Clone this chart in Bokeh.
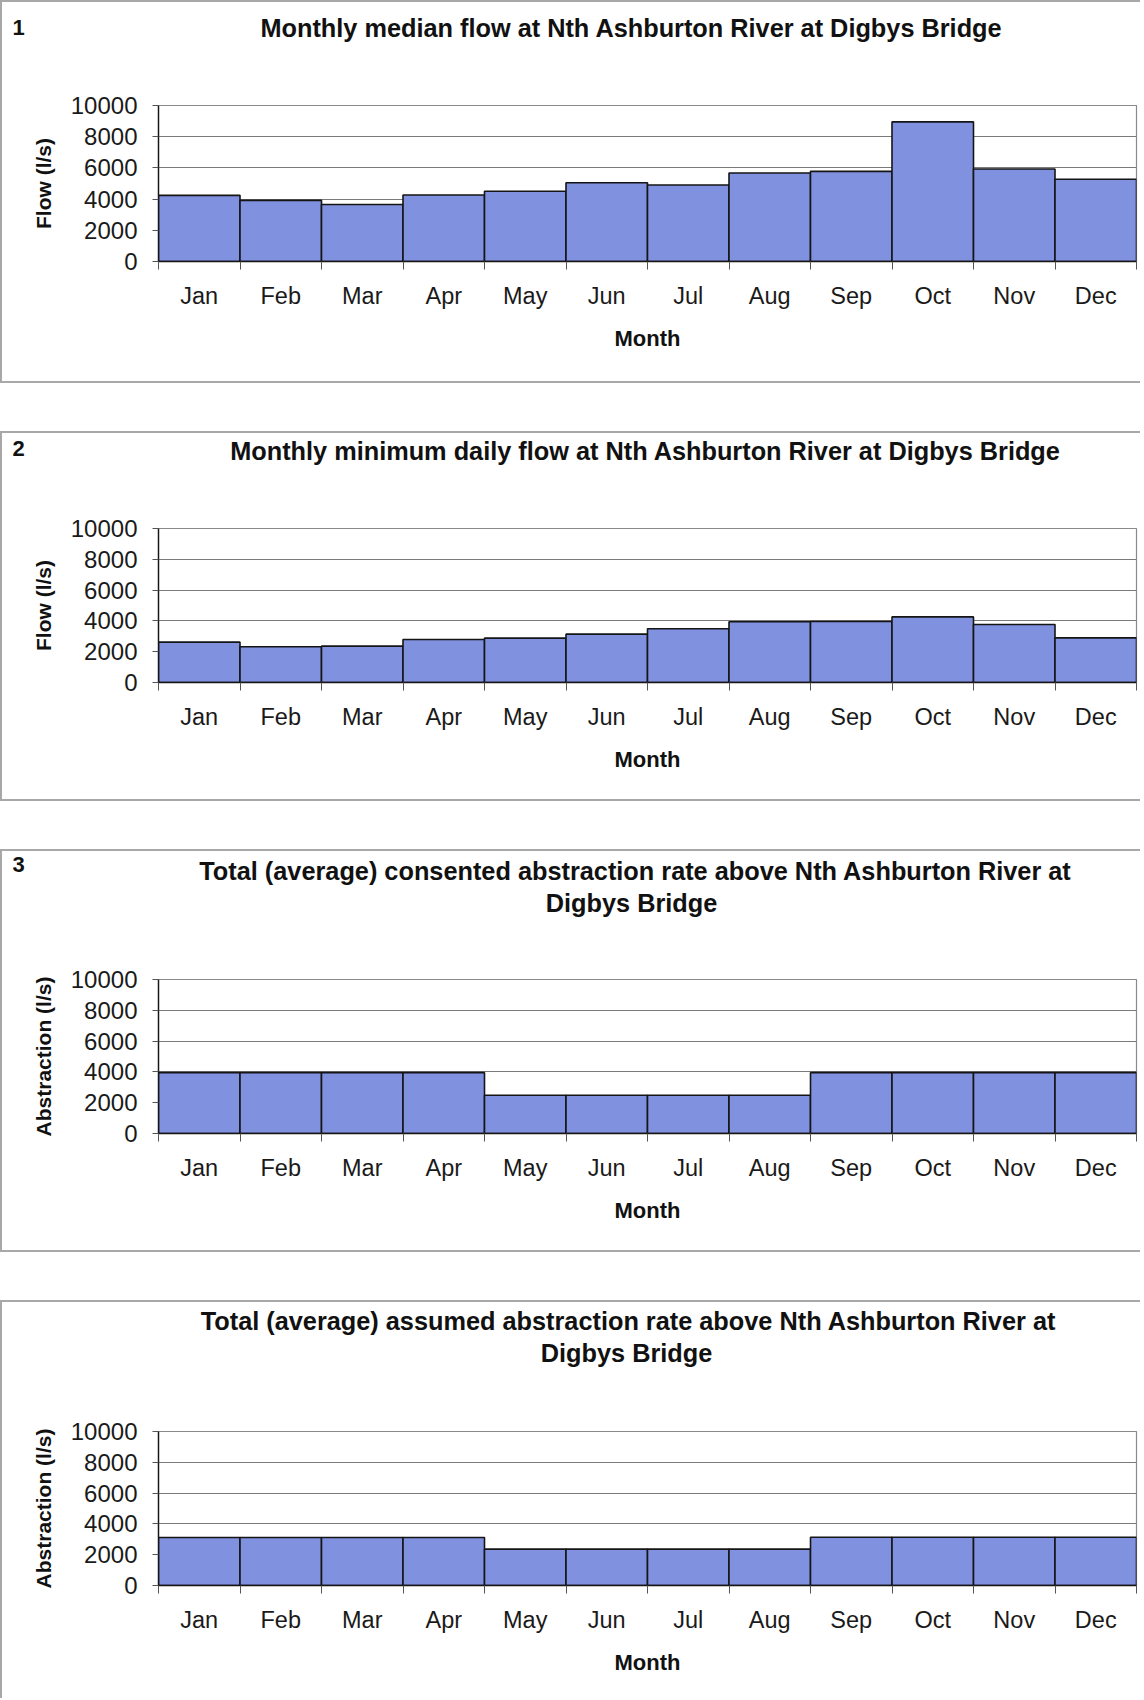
from bokeh.plotting import figure
from bokeh.models import FixedTicker, Range1d
from bokeh.layouts import column
from bokeh.core.properties import value
from bokeh.embed import file_html
from bokeh.resources import INLINE

months = ["Jan", "Feb", "Mar", "Apr", "May", "Jun", "Jul", "Aug", "Sep", "Oct", "Nov", "Dec"]
median_flow = [4240, 3920, 3650, 4260, 4500, 5050, 4900, 5670, 5780, 8950, 5930, 5270]
min_daily_flow = [2620, 2320, 2360, 2790, 2880, 3140, 3490, 3940, 3960, 4260, 3770, 2900]
consented_abstraction = [3950, 3950, 3950, 3950, 2480, 2480, 2480, 2480, 3950, 3950, 3950, 3950]
assumed_abstraction = [3120, 3120, 3120, 3120, 2360, 2360, 2360, 2360, 3130, 3130, 3130, 3130]
y_ticks = [0, 2000, 4000, 6000, 8000, 10000]

titles = [
    ["Monthly median flow at Nth Ashburton River at Digbys Bridge"],
    ["Monthly minimum daily flow at Nth Ashburton River at Digbys Bridge"],
    ["Total (average) consented abstraction rate above Nth Ashburton River at", "Digbys Bridge"],
    ["Total (average) assumed abstraction rate above Nth Ashburton River at", "Digbys Bridge"],
]
panel_numbers = ["1", "2", "3", ""]
y_labels = ["Flow (l/s)", "Flow (l/s)", "Abstraction (l/s)", "Abstraction (l/s)"]
series = [median_flow, min_daily_flow, consented_abstraction, assumed_abstraction]

FONT = "Liberation Sans"
BAR = "#8091E0"
W = 1140
LEFT = 156
TOP = 16
BORDER = "2px solid #a8a8a8"

# header height, chart height, chart bottom border,
# title line centres (x, y) in header pixels, panel-number centre y
layouts = [
    (89, 294, 122, [(629, 25)], 25),
    (81, 289, 119, [(643, 17)], 15),
    (114, 289, 119, [(633, 19), (629, 51)], 13),
    (115, 283, 113, [(626, 18), (624, 50)], None),
]


def make_header(i):
    hh, _, _, lines, num_y = layouts[i]
    h = figure(width=W, height=hh, x_range=Range1d(0, W), y_range=Range1d(hh, 0),
               output_backend="svg", toolbar_location=None, min_border=0,
               x_axis_location=None, y_axis_location=None, frame_align=False)
    h.grid.visible = False
    h.outline_line_color = None
    h.background_fill_color = "white"
    h.border_fill_color = "white"
    h.text(x=[c[0] for c in lines], y=[c[1] for c in lines], text=titles[i],
           text_font=value(FONT), text_font_size="25.3px", text_font_style="bold",
           text_color="#111111", text_align="center", text_baseline="middle")
    if panel_numbers[i]:
        h.text(x=[10], y=[num_y], text=[panel_numbers[i]],
               text_font=value(FONT), text_font_size="22px", text_font_style="bold",
               text_color="#111111", text_align="left", text_baseline="middle")
    h.styles = {"border-left": BORDER, "border-top": BORDER}
    return h


def make_chart(i):
    _, hc, bottom, _, _ = layouts[i]
    p = figure(width=W, height=hc, x_range=Range1d(-0.5, 11.5), y_range=Range1d(0, 10000),
               output_backend="svg", toolbar_location=None,
               min_border_left=LEFT, min_border_right=6,
               min_border_top=TOP, min_border_bottom=bottom, frame_align=False)
    xs = list(range(len(months)))
    p.vbar(x=xs, top=series[i], bottom=0, width=1.0, fill_color=BAR,
           line_color="#151515", line_width=1.6)

    p.outline_line_color = "#8a8a8a"
    p.outline_line_width = 1.2
    p.background_fill_color = "white"
    p.border_fill_color = "white"

    p.xgrid.visible = False
    p.ygrid.ticker = FixedTicker(ticks=y_ticks)
    p.ygrid.grid_line_color = "#7a7a7a"
    p.ygrid.grid_line_width = 1.2

    xa = p.xaxis[0]
    xa.ticker = FixedTicker(ticks=xs, minor_ticks=[x - 0.5 for x in range(len(months) + 1)])
    xa.major_label_overrides = {x: m for x, m in zip(xs, months)}
    xa.major_tick_in = 0
    xa.major_tick_out = 0
    xa.minor_tick_in = 0
    xa.minor_tick_out = 8
    xa.minor_tick_line_color = "#555555"
    xa.axis_line_color = "#151515"
    xa.axis_line_width = 1.6
    xa.major_label_standoff = 13
    xa.major_label_text_font = FONT
    xa.major_label_text_font_size = "23.5px"
    xa.major_label_text_color = "#1a1a1a"
    xa.axis_label = "Month"
    xa.axis_label_text_font = FONT
    xa.axis_label_text_font_size = "22px"
    xa.axis_label_text_font_style = "bold"
    xa.axis_label_text_color = "#111111"
    xa.axis_label_standoff = 14

    ya = p.yaxis[0]
    ya.ticker = FixedTicker(ticks=y_ticks, minor_ticks=[])
    ya.major_tick_in = 0
    ya.major_tick_out = 6
    ya.major_tick_line_color = "#555555"
    ya.axis_line_color = "#151515"
    ya.axis_line_width = 1.4
    ya.major_label_standoff = 15
    ya.major_label_text_font = FONT
    ya.major_label_text_font_size = "24px"
    ya.major_label_text_color = "#1a1a1a"
    ya.axis_label = y_labels[i]
    ya.axis_label_text_font = FONT
    ya.axis_label_text_font_size = "21px"
    ya.axis_label_text_font_style = "bold"
    ya.axis_label_text_color = "#111111"
    ya.axis_label_standoff = 13

    st = {"border-left": BORDER}
    if i < 3:
        st["border-bottom"] = BORDER
    p.styles = st
    return p


panels = [column(make_header(i), make_chart(i), spacing=0) for i in range(4)]
layout = column(*panels, spacing=48)
open("out.html", "w").write(file_html(layout, INLINE))
